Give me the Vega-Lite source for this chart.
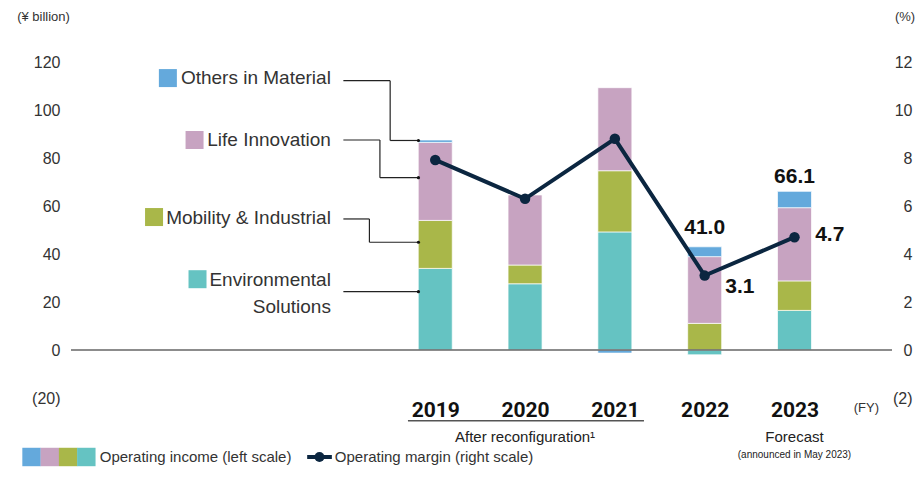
{
  "$schema": "https://vega.github.io/schema/vega-lite/v6.json",
  "width": 821,
  "height": 336,
  "autosize": {"type": "none"},
  "padding": {"left": 71, "top": 62, "right": 27, "bottom": 96},
  "background": "#ffffff",
  "config": {
    "view": {"stroke": null},
    "font": "Liberation Sans",
    "axis": {"grid": false, "domain": false, "ticks": false, "labelFont": "Liberation Sans", "labelFontSize": 16, "labelColor": "#333333"},
    "text": {"font": "Liberation Sans", "color": "#333333"}
  },
  "datasets": {
    "income": [
      {"year": 2019, "segment": "Environmental Solutions", "value": 34.0},
      {"year": 2019, "segment": "Mobility & Industrial", "value": 20.0},
      {"year": 2019, "segment": "Life Innovation", "value": 32.5},
      {"year": 2019, "segment": "Others in Material", "value": 1.0},
      {"year": 2020, "segment": "Environmental Solutions", "value": 27.6},
      {"year": 2020, "segment": "Mobility & Industrial", "value": 7.8},
      {"year": 2020, "segment": "Life Innovation", "value": 29.2},
      {"year": 2021, "segment": "Environmental Solutions", "value": 49.2},
      {"year": 2021, "segment": "Mobility & Industrial", "value": 25.5},
      {"year": 2021, "segment": "Life Innovation", "value": 34.6},
      {"year": 2021, "segment": "Others in Material", "value": -1.3},
      {"year": 2022, "segment": "Environmental Solutions", "value": -2.0},
      {"year": 2022, "segment": "Mobility & Industrial", "value": 11.1},
      {"year": 2022, "segment": "Life Innovation", "value": 27.8},
      {"year": 2022, "segment": "Others in Material", "value": 4.1},
      {"year": 2023, "segment": "Environmental Solutions", "value": 16.5},
      {"year": 2023, "segment": "Mobility & Industrial", "value": 12.3},
      {"year": 2023, "segment": "Life Innovation", "value": 30.5},
      {"year": 2023, "segment": "Others in Material", "value": 6.8}
    ],
    "totals": [
      {"year": 2022, "value": 41.0, "label": "41.0"},
      {"year": 2023, "value": 66.1, "label": "66.1"}
    ],
    "margin": [
      {"year": 2019, "margin": 7.92},
      {"year": 2020, "margin": 6.30},
      {"year": 2021, "margin": 8.80},
      {"year": 2022, "margin": 3.1},
      {"year": 2023, "margin": 4.7}
    ],
    "leaders": [
      {"year": 2017.977, "year2": 2018.498, "value": 112.2, "value2": 112.2},
      {"year": 2018.498, "year2": 2018.498, "value": 112.2, "value2": 87.3},
      {"year": 2018.498, "year2": 2018.813, "value": 87.3, "value2": 87.3},
      {"year": 2017.977, "year2": 2018.384, "value": 87.5, "value2": 87.5},
      {"year": 2018.384, "year2": 2018.384, "value": 87.5, "value2": 71.8},
      {"year": 2018.384, "year2": 2018.813, "value": 71.8, "value2": 71.8},
      {"year": 2017.977, "year2": 2018.267, "value": 54.6, "value2": 54.6},
      {"year": 2018.267, "year2": 2018.267, "value": 54.6, "value2": 44.9},
      {"year": 2018.267, "year2": 2018.813, "value": 44.9, "value2": 44.9},
      {"year": 2017.977, "year2": 2018.813, "value": 24.3, "value2": 24.3}
    ],
    "leaderdots": [
      {"year": 2018.813, "value": 87.3},
      {"year": 2018.813, "value": 71.8},
      {"year": 2018.813, "value": 44.9},
      {"year": 2018.813, "value": 24.3}
    ],
    "keys": [
      {"year": 2016.023, "value": 113.3, "segment": "Others in Material"},
      {"year": 2016.320, "value": 87.5, "segment": "Life Innovation"},
      {"year": 2015.869, "value": 55.4, "segment": "Mobility & Industrial"},
      {"year": 2016.353, "value": 29.5, "segment": "Environmental Solutions"}
    ],
    "keytext": [
      {"year": 2017.838, "value": 113.3, "label": "Others in Material"},
      {"year": 2017.838, "value": 87.5, "label": "Life Innovation"},
      {"year": 2017.838, "value": 55.1, "label": "Mobility & Industrial"},
      {"year": 2017.838, "value": 29.2, "label": "Environmental"},
      {"year": 2017.838, "value": 18.0, "label": "Solutions"}
    ],
    "legendkeys": [
      {"year": 2014.505, "value": -44.58, "segment": "Others in Material"},
      {"year": 2014.709, "value": -44.58, "segment": "Life Innovation"},
      {"year": 2014.912, "value": -44.58, "segment": "Mobility & Industrial"},
      {"year": 2015.115, "value": -44.58, "segment": "Environmental Solutions"}
    ]
  },
  "layer": [
    {
      "layer": [
        {
          "data": {"name": "income"},
          "transform": [{"calculate": "indexof(['Environmental Solutions', 'Mobility & Industrial', 'Life Innovation', 'Others in Material'], datum.segment)", "as": "stackrank"}],
          "mark": {"type": "bar", "width": 34, "stroke": "#ffffff", "strokeWidth": 0.7},
          "encoding": {
            "x": {
              "field": "year", "type": "quantitative",
              "scale": {"domain": [2015, 2024.03], "nice": false, "zero": false},
              "axis": {"values": [2019, 2020, 2021, 2022, 2023], "format": "d", "title": null, "labelFont": "Roboto", "labelFontWeight": "bold", "labelFontSize": 21, "labelColor": "#111111", "labelPadding": 1}
            },
            "y": {
              "field": "value", "type": "quantitative", "stack": "zero",
              "scale": {"domain": [-20, 120], "nice": false, "zero": false},
              "axis": {
                "values": [-20, 0, 20, 40, 60, 80, 100, 120],
                "labelExpr": "datum.value < 0 ? '(' + (-datum.value) + ')' : datum.label",
                "labelPadding": 11,
                "title": "(¥ billion)", "titleAngle": 0, "titleX": -28, "titleY": -46,
                "titleAlign": "center", "titleBaseline": "middle",
                "titleFontSize": 13, "titleFontWeight": "normal", "titleColor": "#333333", "titleFont": "Liberation Sans"
              }
            },
            "color": {
              "field": "segment", "type": "nominal",
              "scale": {
                "domain": ["Environmental Solutions", "Mobility & Industrial", "Life Innovation", "Others in Material"],
                "range": ["#65c3c2", "#a9b749", "#c7a3c1", "#64a9dc"]
              },
              "legend": null
            },
            "order": {"field": "stackrank", "type": "quantitative", "sort": "ascending"}
          }
        },
        {
          "data": {"values": [{"value": 0}]},
          "mark": {"type": "rule", "color": "#666666", "strokeWidth": 1.5},
          "encoding": {"y": {"field": "value", "type": "quantitative"}}
        },
        {
          "data": {"name": "leaders"},
          "mark": {"type": "rule", "color": "#222222", "strokeWidth": 1.2},
          "encoding": {
            "x": {"field": "year", "type": "quantitative"},
            "x2": {"field": "year2"},
            "y": {"field": "value", "type": "quantitative"},
            "y2": {"field": "value2"}
          }
        },
        {
          "data": {"name": "leaderdots"},
          "mark": {"type": "point", "filled": true, "size": 10, "color": "#111111", "opacity": 1},
          "encoding": {
            "x": {"field": "year", "type": "quantitative"},
            "y": {"field": "value", "type": "quantitative"}
          }
        },
        {
          "data": {"name": "keys"},
          "mark": {"type": "point", "shape": "square", "filled": true, "size": 324, "opacity": 1},
          "encoding": {
            "x": {"field": "year", "type": "quantitative"},
            "y": {"field": "value", "type": "quantitative"},
            "color": {"field": "segment", "type": "nominal", "legend": null}
          }
        },
        {
          "data": {"name": "keytext"},
          "mark": {"type": "text", "align": "right", "baseline": "middle", "fontSize": 19, "color": "#333333"},
          "encoding": {
            "x": {"field": "year", "type": "quantitative"},
            "y": {"field": "value", "type": "quantitative"},
            "text": {"field": "label"}
          }
        },
        {
          "data": {"name": "totals"},
          "transform": [{"filter": "datum.year == 2022"}],
          "mark": {"type": "text", "align": "center", "baseline": "middle", "fontSize": 21, "fontWeight": "bold", "color": "#111111", "dy": -23.6},
          "encoding": {
            "x": {"field": "year", "type": "quantitative"},
            "y": {"field": "value", "type": "quantitative"},
            "text": {"field": "label"}
          }
        },
        {
          "data": {"name": "totals"},
          "transform": [{"filter": "datum.year == 2023"}],
          "mark": {"type": "text", "align": "center", "baseline": "middle", "fontSize": 21, "fontWeight": "bold", "color": "#111111", "dy": -14.7},
          "encoding": {
            "x": {"field": "year", "type": "quantitative"},
            "y": {"field": "value", "type": "quantitative"},
            "text": {"field": "label"}
          }
        },
        {
          "data": {"values": [
            {"year": 2020.0, "value": -36.25, "label": "After reconfiguration¹"},
            {"year": 2023.0, "value": -36.25, "label": "Forecast"}
          ]},
          "mark": {"type": "text", "align": "center", "baseline": "middle", "fontSize": 15, "color": "#222222"},
          "encoding": {
            "x": {"field": "year", "type": "quantitative"},
            "y": {"field": "value", "type": "quantitative"},
            "text": {"field": "label"}
          }
        },
        {
          "data": {"values": [
            {"year": 2023.0, "value": -43.75, "label": "(announced in May 2023)"}
          ]},
          "mark": {"type": "text", "align": "center", "baseline": "middle", "fontSize": 10, "color": "#222222"},
          "encoding": {
            "x": {"field": "year", "type": "quantitative"},
            "y": {"field": "value", "type": "quantitative"},
            "text": {"field": "label"}
          }
        },
        {
          "data": {"values": [
            {"year": 2023.80, "value": -24.2, "label": "(FY)"}
          ]},
          "mark": {"type": "text", "align": "center", "baseline": "middle", "fontSize": 13, "color": "#333333"},
          "encoding": {
            "x": {"field": "year", "type": "quantitative"},
            "y": {"field": "value", "type": "quantitative"},
            "text": {"field": "label"}
          }
        },
        {
          "data": {"values": [
            {"year": 2015.264, "value": -44.58, "label": "Operating income (left scale)"},
            {"year": 2017.882, "value": -44.58, "label": "Operating margin (right scale)"}
          ]},
          "mark": {"type": "text", "align": "left", "baseline": "middle", "fontSize": 15, "color": "#333333"},
          "encoding": {
            "x": {"field": "year", "type": "quantitative"},
            "y": {"field": "value", "type": "quantitative"},
            "text": {"field": "label"}
          }
        },
        {
          "data": {"values": [
            {"year": 2018.696, "year2": 2021.324, "value": -29.5}
          ]},
          "mark": {"type": "rule", "color": "#555555", "strokeWidth": 1.5},
          "encoding": {
            "x": {"field": "year", "type": "quantitative"},
            "x2": {"field": "year2"},
            "y": {"field": "value", "type": "quantitative"}
          }
        },
        {
          "data": {"name": "legendkeys"},
          "mark": {"type": "point", "shape": "square", "filled": true, "size": 340, "opacity": 1},
          "encoding": {
            "x": {"field": "year", "type": "quantitative"},
            "y": {"field": "value", "type": "quantitative"},
            "color": {"field": "segment", "type": "nominal", "legend": null}
          }
        },
        {
          "data": {"values": [
            {"year": 2017.574, "year2": 2017.849, "value": -44.58}
          ]},
          "mark": {"type": "rule", "color": "#0b2640", "strokeWidth": 4},
          "encoding": {
            "x": {"field": "year", "type": "quantitative"},
            "x2": {"field": "year2"},
            "y": {"field": "value", "type": "quantitative"}
          }
        },
        {
          "data": {"values": [
            {"year": 2017.711, "value": -44.58}
          ]},
          "mark": {"type": "point", "filled": true, "size": 100, "color": "#0b2640", "opacity": 1},
          "encoding": {
            "x": {"field": "year", "type": "quantitative"},
            "y": {"field": "value", "type": "quantitative"}
          }
        }
      ]
    },
    {
      "layer": [
        {
          "data": {"name": "margin"},
          "mark": {"type": "line", "color": "#0b2640", "strokeWidth": 4, "point": {"filled": true, "size": 110, "color": "#0b2640", "opacity": 1}},
          "encoding": {
            "x": {"field": "year", "type": "quantitative"},
            "y": {
              "field": "margin", "type": "quantitative",
              "scale": {"domain": [-2, 12], "nice": false, "zero": false},
              "axis": {
                "orient": "right",
                "values": [-2, 0, 2, 4, 6, 8, 10, 12],
                "labelExpr": "datum.value < 0 ? '(' + (-datum.value) + ')' : datum.label",
                "labelAlign": "right",
                "labelPadding": 20,
                "title": "(%)", "titleAngle": 0, "titleX": 12.5, "titleY": -46,
                "titleAlign": "center", "titleBaseline": "middle",
                "titleFontSize": 13, "titleFontWeight": "normal", "titleColor": "#333333", "titleFont": "Liberation Sans"
              }
            }
          }
        },
        {
          "data": {"name": "margin"},
          "transform": [{"filter": "datum.year == 2022"}],
          "mark": {"type": "text", "align": "left", "baseline": "middle", "fontSize": 21, "fontWeight": "bold", "color": "#111111", "dx": 20.6, "dy": 11},
          "encoding": {
            "x": {"field": "year", "type": "quantitative"},
            "y": {"field": "margin", "type": "quantitative"},
            "text": {"field": "margin", "type": "quantitative", "format": ".1f"}
          }
        },
        {
          "data": {"name": "margin"},
          "transform": [{"filter": "datum.year == 2023"}],
          "mark": {"type": "text", "align": "left", "baseline": "middle", "fontSize": 21, "fontWeight": "bold", "color": "#111111", "dx": 20.7, "dy": -2},
          "encoding": {
            "x": {"field": "year", "type": "quantitative"},
            "y": {"field": "margin", "type": "quantitative"},
            "text": {"field": "margin", "type": "quantitative", "format": ".1f"}
          }
        }
      ]
    }
  ],
  "resolve": {"scale": {"y": "independent"}}
}
